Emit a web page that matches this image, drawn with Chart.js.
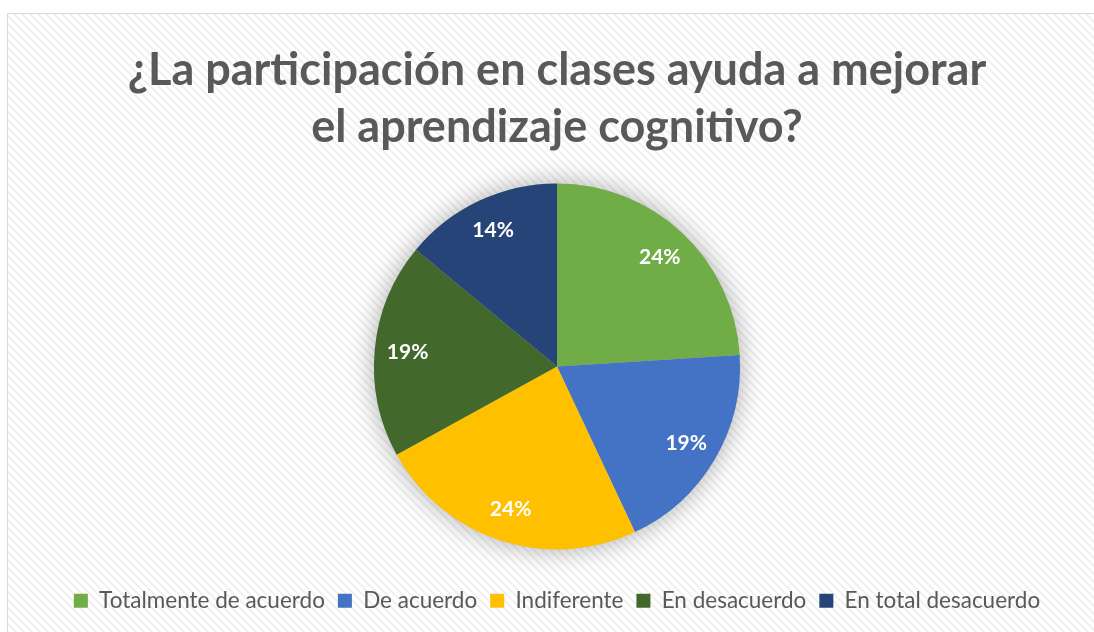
<!DOCTYPE html>
<html><head><meta charset="utf-8">
<script src="https://cdn.jsdelivr.net/npm/chart.js@4/dist/chart.umd.min.js"></script>
<style>html,body{margin:0;padding:0;background:#fff}#wrap{width:1094px;height:632px;position:relative}</style>
</head><body><div id="wrap"><canvas id="c" width="1094" height="632"></canvas></div>
<script>
const titleLines = ['¿La participación en clases ayuda a mejorar', 'el aprendizaje cognitivo?'];
const categories = ['Totalmente de acuerdo', 'De acuerdo', 'Indiferente', 'En desacuerdo', 'En total desacuerdo'];
const values = [24, 19, 24, 19, 14];
const colors = ['#70AD47', '#4472C4', '#FFC000', '#43682B', '#264478'];

function makePattern(ctx){
  const p = document.createElement('canvas'); p.width = 8; p.height = 8;
  const g = p.getContext('2d');
  g.fillStyle = '#ffffff'; g.fillRect(0,0,8,8);
  g.strokeStyle = '#f0f0f0'; g.lineWidth = 2;
  g.beginPath();
  g.moveTo(-2,-2); g.lineTo(10,10);
  g.moveTo(-6,2); g.lineTo(6,14);
  g.moveTo(2,-6); g.lineTo(14,6);
  g.stroke();
  return ctx.createPattern(p,'repeat');
}

const bgPlugin = {
  id: 'bg',
  beforeDraw(chart){
    const ctx = chart.ctx;
    ctx.save();
    ctx.fillStyle = '#ffffff'; ctx.fillRect(0,0,chart.width,chart.height);
    ctx.fillStyle = makePattern(ctx);
    ctx.fillRect(7,13,chart.width,chart.height);
    ctx.strokeStyle = '#d9d9d9'; ctx.lineWidth = 1;
    ctx.strokeRect(7.5,13.5,chart.width+10,chart.height+10);
    ctx.restore();
  },
  beforeDatasetsDraw(chart){
    const meta = chart.getDatasetMeta(0);
    const a = meta.data[0];
    if(!a) return;
    const ctx = chart.ctx;
    ctx.save();
    ctx.shadowColor = 'rgba(0,0,0,0.32)';
    ctx.shadowBlur = 26;
    ctx.fillStyle = '#cccccc';
    ctx.beginPath(); ctx.arc(a.x, a.y, a.outerRadius, 0, Math.PI*2); ctx.fill();
    ctx.restore();
  }
};

const labelPlugin = {
  id: 'pctLabels',
  afterDatasetsDraw(chart){
    const meta = chart.getDatasetMeta(0);
    const ds = chart.data.datasets[0].data;
    const total = ds.reduce((s,v)=>s+v,0);
    const ctx = chart.ctx;
    ctx.save();
    ctx.fillStyle = '#ffffff';
    ctx.font = 'bold 21px Lato, "Open Sans", sans-serif';
    ctx.textAlign = 'center'; ctx.textBaseline = 'middle';
    meta.data.forEach((arc,i)=>{
      const mid = (arc.startAngle + arc.endAngle)/2;
      const r = arc.outerRadius*0.82;
      const x = arc.x + Math.cos(mid)*r, y = arc.y + Math.sin(mid)*r;
      ctx.fillText(Math.round(ds[i]/total*100)+'%', x, y);
    });
    ctx.restore();
  }
};

new Chart(document.getElementById('c'), {
  type: 'pie',
  data: { labels: categories, datasets: [{ data: values, backgroundColor: colors, borderWidth: 0 }] },
  options: {
    responsive: false, animation: false,
    layout: { padding: { left: 20, right: 0, top: 0, bottom: 10 } },
    plugins: {
      title: { display: true, text: titleLines, color: '#595959',
        font: { family: 'Lato, "Open Sans", sans-serif', size: 45, weight: 'bold', lineHeight: 1.26 },
        padding: { top: 42, bottom: 28 } },
      legend: { position: 'bottom',
        title: { display: true, text: ' ', font: { size: 1, lineHeight: 1 }, padding: { top: 26, bottom: 0 } },
        labels: { color: '#595959', font: { family: 'Lato, "Open Sans", sans-serif', size: 22.5 },
          boxWidth: 14, boxHeight: 14, padding: 13 } },
      tooltip: { enabled: false }
    }
  },
  plugins: [bgPlugin, labelPlugin]
});
</script></body></html>
